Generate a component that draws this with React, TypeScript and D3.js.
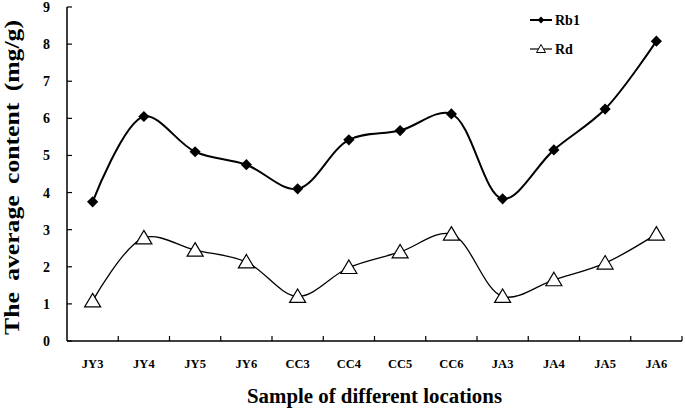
import React from 'react';
import * as d3 from 'd3';

const categories = ['JY3', 'JY4', 'JY5', 'JY6', 'CC3', 'CC4', 'CC5', 'CC6', 'JA3', 'JA4', 'JA5', 'JA6'];
const rb1 = [3.75, 6.05, 5.1, 4.75, 4.1, 5.42, 5.67, 6.12, 3.83, 5.15, 6.25, 8.08];
const rd = [1.08, 2.78, 2.45, 2.13, 1.2, 1.98, 2.4, 2.88, 1.2, 1.65, 2.1, 2.88];
const yTicks = [0, 1, 2, 3, 4, 5, 6, 7, 8, 9];

const width = 685;
const height = 410;
const left = 67;
const right = 682;
const top = 7;
const bottom = 341;
const font = '"Liberation Serif", "Times New Roman", serif';

const xScale = d3.scaleBand().domain(categories).range([left, right]);
const yScale = d3.scaleLinear().domain([0, 9]).range([bottom, top]);

const line = d3.line<number>()
  .x((d, i) => xScale(categories[i])! + xScale.bandwidth() / 2)
  .y((d) => yScale(d))
  .curve(d3.curveCatmullRom.alpha(0.5));

const diamond = d3.symbol().type(d3.symbolDiamond2).size(80)();
const triangle = 'M0,-7.5L8,6L-8,6Z';

export default function App() {
  const cx = (i: number) => xScale(categories[i])! + xScale.bandwidth() / 2;
  return (
    <svg width={width} height={height} style={{ position: 'absolute', left: 0, top: 0, background: '#fff' }}
      fontFamily={font} fontWeight="bold">
      {/* axes */}
      <line x1={left} x2={left} y1={top} y2={bottom} stroke="#000" strokeWidth={1.5} />
      <line x1={left} x2={right} y1={bottom} y2={bottom} stroke="#000" strokeWidth={1.5} />
      {yTicks.map((t) => (
        <g key={t}>
          <line x1={left} x2={left + 5} y1={yScale(t)} y2={yScale(t)} stroke="#000" strokeWidth={1.2} />
          <text x={50} y={yScale(t) + 5} textAnchor="end" fontSize={14}>{t}</text>
        </g>
      ))}
      {categories.map((c, i) => (
        <g key={c}>
          <line x1={xScale(c)! + xScale.bandwidth()} x2={xScale(c)! + xScale.bandwidth()}
            y1={bottom} y2={bottom - 5} stroke="#000" strokeWidth={1.2} />
          <text x={cx(i)} y={368} textAnchor="middle" fontSize={12.5}>{c}</text>
        </g>
      ))}
      <text x={374.5} y={403} textAnchor="middle" fontSize={20}
        textLength={255} lengthAdjust="spacingAndGlyphs">Sample of different locations</text>
      <text transform={`translate(18.5,177.5) rotate(-90)`} textAnchor="middle" fontSize={21}
        wordSpacing={4} textLength={315} lengthAdjust="spacingAndGlyphs">The average content (mg/g)</text>

      {/* series */}
      <path d={line(rb1)!} fill="none" stroke="#000" strokeWidth={2} />
      <path d={line(rd)!} fill="none" stroke="#000" strokeWidth={1.3} />
      {rb1.map((v, i) => (
        <path key={i} d={diamond!} transform={`translate(${cx(i)},${yScale(v)})`} fill="#000" />
      ))}
      {rd.map((v, i) => (
        <path key={i} d={triangle} transform={`translate(${cx(i)},${yScale(v)})`} fill="#fff" stroke="#000" strokeWidth={1.2} />
      ))}

      {/* legend */}
      <line x1={530} x2={552} y1={20} y2={20} stroke="#000" strokeWidth={2} />
      <path d={d3.symbol().type(d3.symbolDiamond2).size(30)()!} transform="translate(541,20)" fill="#000" />
      <text x={555} y={25} fontSize={14}>Rb1</text>
      <line x1={530} x2={552} y1={49} y2={49} stroke="#000" strokeWidth={1.2} />
      <path d="M0,-4.5L4.5,3.5L-4.5,3.5Z" transform="translate(541,49)" fill="#fff" stroke="#000" strokeWidth={1} />
      <text x={555} y={54} fontSize={14}>Rd</text>
    </svg>
  );
}
